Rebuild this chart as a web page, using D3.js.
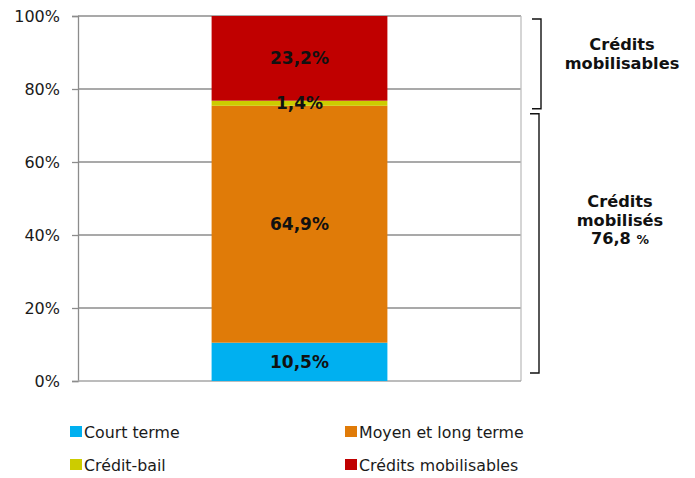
<!DOCTYPE html>
<html><head><meta charset="utf-8">
<script src="https://cdn.jsdelivr.net/npm/d3@7"></script>
<style>body{margin:0;background:#fff}svg{display:block}</style>
</head><body>
<script>
const categories = ["Total"];
const seriesNames = ["Court terme", "Moyen et long terme", "Crédit-bail", "Crédits mobilisables"];
const seriesValues = [10.5, 64.9, 1.4, 23.2];
const seriesLabels = ["10,5%", "64,9%", "1,4%", "23,2%"];
const colors = ["#00B0F0", "#E07B08", "#CCCC00", "#C00000"];
const yTicks = [0, 20, 40, 60, 80, 100];
const yTickLabels = ["0%", "20%", "40%", "60%", "80%", "100%"];
const bracketTop = {from: 76.8, to: 100, lines: ["Crédits", "mobilisables"]};
const bracketBottom = {from: 0, to: 76.8, lines: ["Crédits", "mobilisés", "76,8 %"]};

(function () {
const W = 695, H = 478;
const svg = d3.select("body").append("svg").attr("width", W).attr("height", H);
const pLeft = 78, pRight = 521, pTop = 16, pBottom = 381;
const y = d3.scaleLinear().domain([0, 100]).range([pBottom, pTop]);
const x = d3.scaleBand().domain(categories).range([pLeft, pRight]).paddingInner(0).paddingOuter(0.76);

// gridlines
svg.append("g").selectAll("line").data(yTicks.filter(d => d > 0)).join("line")
  .attr("x1", pLeft).attr("x2", pRight).attr("y1", d => y(d)).attr("y2", d => y(d))
  .attr("stroke", "#8c8c8c").attr("stroke-width", 1.3);
// right border
svg.append("line").attr("x1", pRight).attr("x2", pRight).attr("y1", pTop).attr("y2", pBottom)
  .attr("stroke", "#bfbfbf").attr("stroke-width", 1.3);

// y axis
const yAxis = d3.axisLeft(y).tickValues(yTicks).tickFormat((d, i) => yTickLabels[i]).tickSize(6).tickPadding(12);
const ga = svg.append("g").attr("transform", `translate(${pLeft},0)`).call(yAxis);
ga.select(".domain").attr("stroke", "#8c8c8c").attr("stroke-width", 1.3);
ga.selectAll(".tick line").attr("stroke", "#8c8c8c").attr("stroke-width", 1.3);
ga.selectAll(".tick text").attr("font-family", "DejaVu Sans").attr("font-size", 16).attr("fill", "#1a1a1a");

// bottom axis
svg.append("line").attr("x1", pLeft).attr("x2", pRight).attr("y1", pBottom).attr("y2", pBottom)
  .attr("stroke", "#a6a6a6").attr("stroke-width", 1.3);

// stack
const stackData = [];
let acc = 0;
seriesValues.forEach((v, i) => { stackData.push({i, y0: acc, y1: acc + v}); acc += v; });

const bx = x(categories[0]), bw = x.bandwidth();
svg.append("g").selectAll("rect").data(stackData).join("rect")
  .attr("x", bx).attr("width", bw)
  .attr("y", d => y(d.y1)).attr("height", d => y(d.y0) - y(d.y1))
  .attr("fill", d => colors[d.i]);

svg.append("g").selectAll("text").data(stackData).join("text")
  .attr("x", bx + bw / 2).attr("y", d => y((d.y0 + d.y1) / 2) + 6)
  .attr("text-anchor", "middle").attr("font-family", "DejaVu Sans").attr("font-weight", "bold")
  .attr("font-size", 17).attr("fill", "#111")
  .text(d => seriesLabels[d.i]);

// brackets
function bracket(b, xv, padTop, padBottom, labelX, labelY) {
  const y1 = y(b.to) + padTop, y2 = y(b.from) - padBottom;
  svg.append("path")
    .attr("d", `M${xv - 9},${y1} H${xv} V${y2} H${xv - 9}`)
    .attr("fill", "none").attr("stroke", "#111").attr("stroke-width", 1.4);
  const t = svg.append("text").attr("text-anchor", "middle").attr("font-family", "DejaVu Sans")
    .attr("font-weight", "bold").attr("font-size", 16.2).attr("fill", "#111");
  b.lines.forEach((l, i) => {
    const ts = t.append("tspan").attr("x", labelX).attr("y", labelY + i * 18.5);
    if (l.endsWith("%")) {
      ts.text(l.slice(0, -1));
      ts.append("tspan").attr("font-size", 12.5).text("%");
    } else ts.text(l);
  });
}
bracket(bracketTop, 541, 3, -8, 622, 50);
bracket(bracketBottom, 539, 13, 8, 620, 207);

// legend
const legendPos = [[70, 426], [345, 426], [70, 459], [345, 459]];
const lg = svg.append("g").selectAll("g").data(seriesNames).join("g")
  .attr("transform", (d, i) => `translate(${legendPos[i][0]},${legendPos[i][1]})`);
lg.append("rect").attr("width", 12).attr("height", 11).attr("fill", (d, i) => colors[i]);
lg.append("text").attr("x", 14).attr("y", 11.5).attr("font-family", "DejaVu Sans")
  .attr("font-size", 15.8).attr("fill", "#1a1a1a").text(d => d);
})();
</script>
</body></html>
